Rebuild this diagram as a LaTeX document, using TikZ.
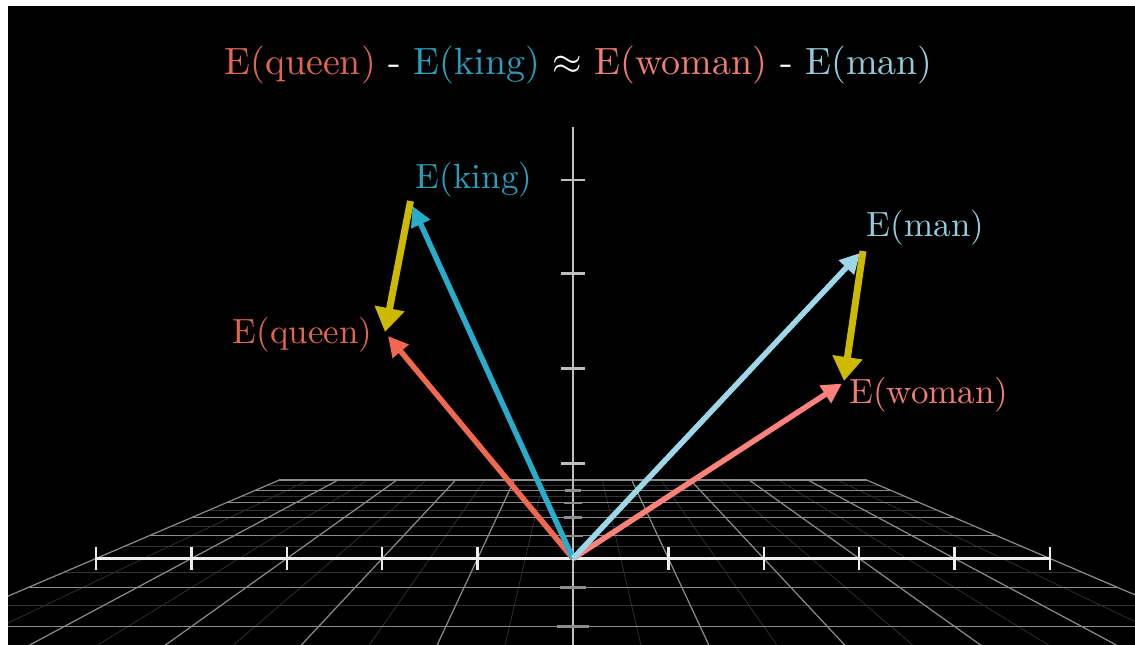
\documentclass[tikz,border=0pt]{standalone}
\usepackage{graphicx}
\usepackage{tikz}
\usetikzlibrary{arrows.meta, calc}
\definecolor{myking}{RGB}{41,171,202}
\definecolor{myqueen}{RGB}{240,104,80}
\definecolor{myman}{RGB}{156,216,234}
\definecolor{mywoman}{RGB}{250,130,122}
\definecolor{mydiff}{RGB}{205,185,0}
\definecolor{txtking}{RGB}{38,160,192}
\definecolor{txtqueen}{RGB}{226,102,78}
\definecolor{txtman}{RGB}{145,205,222}
\definecolor{txtwoman}{RGB}{242,124,114}
\tikzset{
  vec/.style={line width=5.5pt, -{Triangle[length=20pt,width=20pt]}},
  diffvec/.style={line width=7pt, draw=mydiff, -{Triangle[length=24pt,width=29pt]}},
  lbl/.style={font=\fontsize{10}{12}\selectfont, inner sep=0pt},
  gridmajor/.style={draw=white!55!black, line width=1.2pt},
  gridminor/.style={draw=white!20!black, line width=0.7pt},
  xaxis/.style={draw=white!93!black, line width=3pt},
  upaxis/.style={draw=white!75!black, line width=2.2pt},
  ztick/.style={draw=white!55!black, line width=2.5pt}
}

\begin{document}
\begin{tikzpicture}[x=1pt, y=-1pt,
  declare function={sx(\a,\b)=573+763.2*\a/(8+\b); sy(\b)=354.4+1632.8/(8+\b);}]

  % Frame
  \fill[white] (0,0) rectangle (1135,645);
  \fill[black] (8,6) rectangle (1135,645);
  \useasboundingbox (0,0) rectangle (1135,645);

  % Floor grid
  \begin{scope}
    \clip (8,6) rectangle (1135,645);
    \foreach \z in {-2.5,-1.5,...,4.5}
      \draw[gridminor] ({sx(-5,\z)},{sy(\z)}) -- ({sx(5,\z)},{sy(\z)});
    \foreach \a in {-4.5,-3.5,...,4.5}
      \draw[gridminor] ({sx(\a,5)},{sy(5)}) -- ({sx(\a,-2.6)},{sy(-2.6)});
    \foreach \z in {-2,...,5}
      \draw[gridmajor] ({sx(-5,\z)},{sy(\z)}) -- ({sx(5,\z)},{sy(\z)});
    \foreach \a in {-5,...,5}
      \draw[gridmajor] ({sx(\a,5)},{sy(5)}) -- ({sx(\a,-2.6)},{sy(-2.6)});
  \end{scope}

  % Axes
  \coordinate (O) at (573,558.5);
  \draw[upaxis] (573,127) -- (573,645);
  \foreach \y in {463.5,368.5,273.5,180}
    \draw[upaxis] (561,\y) -- (585,\y);
  \foreach \z in {-2,-1,1,2,3,4}
    \draw[ztick] ({573-94/(8+\z)},{sy(\z)}) -- ({573+94/(8+\z)},{sy(\z)});
  \draw[xaxis] ({sx(-5,0)},558.5) -- ({sx(5,0)},558.5);
  \foreach \a in {-5,-4,-3,-2,-1,1,2,3,4,5}
    \draw[xaxis, line width=2.5pt] ({sx(\a,0)},547) -- ({sx(\a,0)},570);

  % Vectors
  \coordinate (king) at (412.5,206);
  \coordinate (queen) at (388,336);
  \coordinate (man) at (860,253);
  \coordinate (woman) at (842,383.5);
  \draw[vec, draw=myqueen] (O) -- (queen);
  \draw[vec, draw=myking] (O) -- (king);
  \draw[vec, draw=mywoman] (O) -- (woman);
  \draw[vec, draw=myman] (O) -- (man);

  % Differences
  \coordinate (kq0) at (410.5,201);
  \coordinate (kq1) at (385,332);
  \coordinate (mw0) at (863,251);
  \coordinate (mw1) at (844,381);
  \draw[diffvec] (kq0) -- (kq1);
  \draw[diffvec] (mw0) -- (mw1);

  % Labels
  \node[lbl, text=txtking] (lking) at (474,180) {\scalebox{3.5}{E(king)}};
  \node[lbl, text=txtqueen] (lqueen) at (302.5,335) {\scalebox{3.5}{E(queen)}};
  \node[lbl, text=txtman] (lman) at (925.5,228) {\scalebox{3.5}{E(man)}};
  \node[lbl, text=txtwoman] (lwoman) at (929,395) {\scalebox{3.5}{E(woman)}};
  \node[lbl, text=white] (title) at (578.5,65)
    {\scalebox{3.8}{\textcolor{txtqueen}{E(queen)} - \textcolor{txtking}{E(king)} $\approx$ \textcolor{txtwoman}{E(woman)} - \textcolor{txtman}{E(man)}}};
\end{tikzpicture}
\end{document}
